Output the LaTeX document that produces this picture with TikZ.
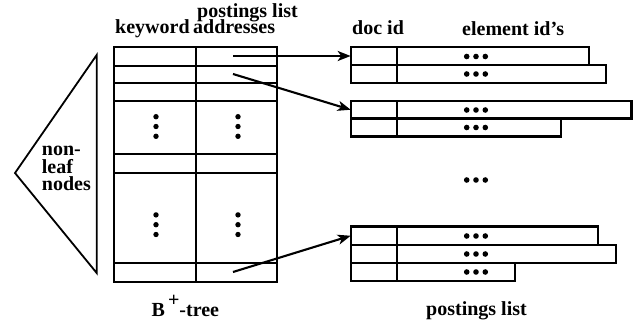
\documentclass[tikz,border=0pt]{standalone}
\usepackage{fontspec}
\setmainfont{Liberation Serif}
\usetikzlibrary{arrows.meta}
\begin{document}
\begin{tikzpicture}[x=1pt,y=-1pt,
  lbl/.style={font=\fontsize{20}{20}\selectfont\bfseries, inner sep=0pt, anchor=base west},
  rule/.style={line width=2.1pt},
  cell/.style={draw, line width=2.1pt, rectangle, inner sep=0pt, outer sep=0pt, anchor=north west},
  ptr/.style={line width=2.1pt, -{Stealth[length=13pt,width=10pt,inset=3.5pt]}},
  hdots/.pic={\foreach \d in {-9.3,0,9.3} \fill (\d,0) circle[radius=2.8pt];},
  vdots/.pic={\foreach \d in {-9.8,0,9.8} \fill (0,\d) circle[radius=2.7pt];}]
\useasboundingbox (0,0) rectangle (633,323);

% ---- non-leaf part of the tree
\draw[line width=1.8pt, line join=miter] (15,173) -- (96.7,55) -- (96.7,273) -- cycle;
\node[lbl] (nl1) at (41.7,156) {non-};
\node[lbl] (nl2) at (41.7,173.5) {leaf};
\node[lbl] (nl3) at (41.7,191) {nodes};

% ---- leaf level: keyword / postings list addresses
\draw[rule] (114,47) rectangle (277,282);
\draw[rule] (196,47) -- (196,282);
\foreach \r in {66,83,101,154,173,263}
  \draw[rule] (114,\r) -- (277,\r);
\pic at (156,126.5) {vdots};
\pic at (238,126.5) {vdots};
\pic at (156,224.7) {vdots};
\pic at (238,224.7) {vdots};

\node[lbl] (kw) at (115,34) {keyword};
\node[lbl] (ad) at (193,34) {addresses};
\node[lbl] (pl) at (197,17.3) {postings list};
\node[lbl] (bt) at (151.5,316.5) {B\hspace{3pt}\raisebox{10pt}{+}-tree};

% ---- postings lists
\node[lbl] (di) at (352,35) {doc id};
\node[lbl] (ei) at (462,35.5) {element id's};

% first list
\node[cell, minimum width=46pt, minimum height=18pt] (p1) at (350.7,47) {};
\node[cell, minimum width=192.3pt, minimum height=18pt] (p1e) at (396.7,47) {};
\node[cell, minimum width=46pt, minimum height=18pt] (p1b) at (350.7,65) {};
\node[cell, minimum width=209.3pt, minimum height=18pt] (p1be) at (396.7,65) {};
\pic at (476,56.5) {hdots};
\pic at (476,74) {hdots};

% second list
\node[cell, minimum width=46pt, minimum height=17.5pt] (p2) at (350.7,101) {};
\node[cell, minimum width=234.8pt, minimum height=17.5pt] (p2e) at (396.7,101) {};
\node[cell, minimum width=46pt, minimum height=18pt] (p2b) at (350.7,118.5) {};
\node[cell, minimum width=164.3pt, minimum height=18pt] (p2be) at (396.7,118.5) {};
\pic at (476,110) {hdots};
\pic at (476,127.5) {hdots};

\pic at (476,180) {hdots};

% last list
\node[cell, minimum width=46pt, minimum height=18.5pt] (p3) at (350.7,226.5) {};
\node[cell, minimum width=201.3pt, minimum height=18.5pt] (p3e) at (396.7,226.5) {};
\node[cell, minimum width=46pt, minimum height=18pt] (p3b) at (350.7,245) {};
\node[cell, minimum width=219.3pt, minimum height=18pt] (p3be) at (396.7,245) {};
\node[cell, minimum width=46pt, minimum height=18pt] (p3c) at (350.7,263) {};
\node[cell, minimum width=118.3pt, minimum height=18pt] (p3ce) at (396.7,263) {};
\pic at (476,236) {hdots};
\pic at (476,254) {hdots};
\pic at (476,272) {hdots};

\node[lbl] (pls) at (426,316) {postings list};

% ---- pointers from the leaf entries to their lists
\coordinate (a1) at (233,56);
\coordinate (a2) at (233,74);
\coordinate (a3) at (233,272);
\draw[ptr] (a1) -- (p1.west);
\draw[ptr] (a2) -- (p2.west);
\draw[ptr] (a3) -- (p3.west);
\end{tikzpicture}
\end{document}
